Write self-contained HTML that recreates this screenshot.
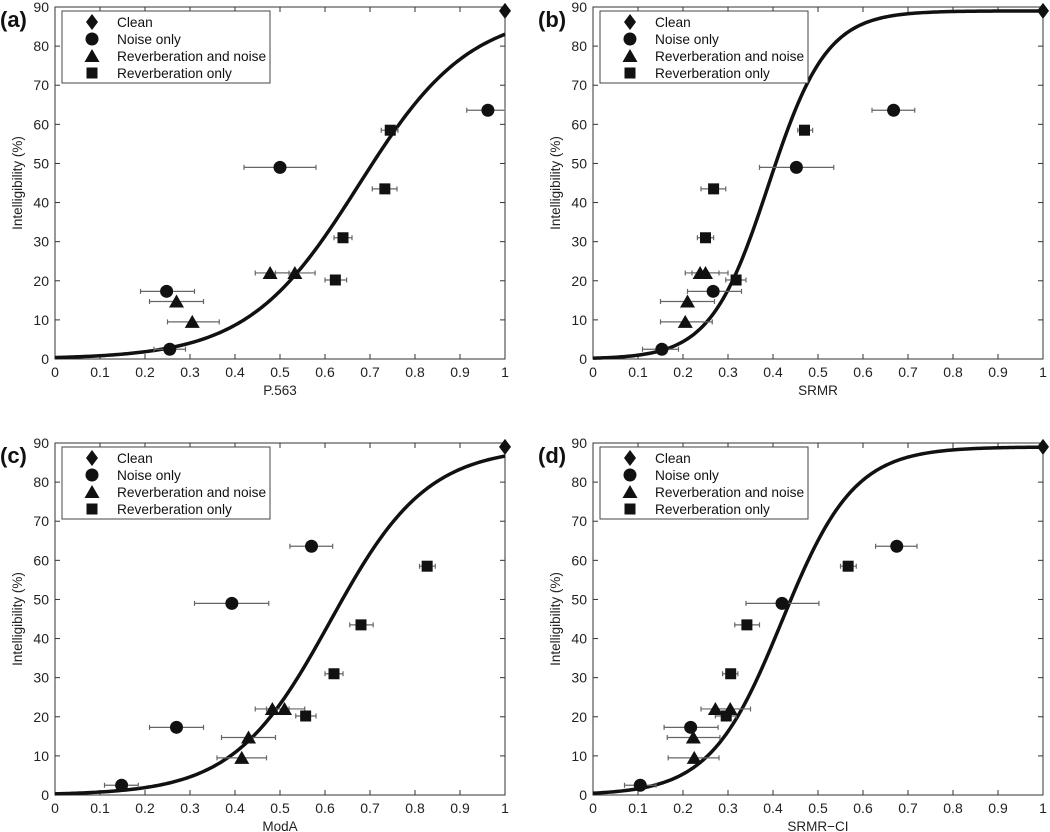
<!DOCTYPE html>
<html><head><meta charset="utf-8"><style>
body{margin:0;background:#fff;}
svg{display:block;font-family:"Liberation Sans",Arial,sans-serif;}
</style></head><body>
<svg id="fig" width="1050" height="832" viewBox="0 0 1050 832"></svg>
<script>
// Shared y values (intelligibility %)
const cleanY = [89];
const noiseY = [2.5, 17.3, 49, 63.6];
const revNoiseY = [9.5, 14.7, 22, 22];
const revY = [20.2, 31, 43.5, 58.5];

// Panel (a) P.563
const aCleanX = [1.0];
const aNoiseX = [0.255, 0.248, 0.50, 0.962];
const aNoiseLo = [0.22, 0.19, 0.42, 0.915];
const aNoiseHi = [0.29, 0.31, 0.58, 1.0];
const aRNX = [0.305, 0.27, 0.478, 0.533];
const aRNLo = [0.25, 0.21, 0.445, 0.49];
const aRNHi = [0.365, 0.33, 0.52, 0.578];
const aRX = [0.623, 0.64, 0.733, 0.745];
const aRLo = [0.60, 0.62, 0.705, 0.725];
const aRHi = [0.648, 0.66, 0.76, 0.762];
const aFit = [89, 8.1, 0.675];

// Panel (b) SRMR
const bCleanX = [1.0];
const bNoiseX = [0.153, 0.267, 0.452, 0.668];
const bNoiseLo = [0.11, 0.21, 0.37, 0.62];
const bNoiseHi = [0.19, 0.33, 0.535, 0.715];
const bRNX = [0.205, 0.21, 0.238, 0.25];
const bRNLo = [0.15, 0.15, 0.205, 0.22];
const bRNHi = [0.265, 0.27, 0.28, 0.30];
const bRX = [0.318, 0.25, 0.268, 0.47];
const bRLo = [0.295, 0.232, 0.24, 0.455];
const bRHi = [0.34, 0.268, 0.295, 0.488];
const bFit = [89, 15.5, 0.39];

// Panel (c) ModA
const cCleanX = [1.0];
const cNoiseX = [0.148, 0.27, 0.393, 0.57];
const cNoiseLo = [0.11, 0.21, 0.31, 0.522];
const cNoiseHi = [0.185, 0.33, 0.475, 0.617];
const cRNX = [0.415, 0.43, 0.483, 0.51];
const cRNLo = [0.36, 0.37, 0.445, 0.47];
const cRNHi = [0.47, 0.49, 0.52, 0.555];
const cRX = [0.557, 0.62, 0.68, 0.827];
const cRLo = [0.535, 0.60, 0.655, 0.81];
const cRHi = [0.58, 0.64, 0.707, 0.845];
const cFit = [89, 9.3, 0.612];

// Panel (d) SRMR-CI
const dCleanX = [1.0];
const dNoiseX = [0.105, 0.217, 0.42, 0.675];
const dNoiseLo = [0.07, 0.158, 0.34, 0.628];
const dNoiseHi = [0.14, 0.278, 0.502, 0.72];
const dRNX = [0.225, 0.223, 0.272, 0.305];
const dRNLo = [0.167, 0.165, 0.24, 0.27];
const dRNHi = [0.28, 0.282, 0.31, 0.35];
const dRX = [0.296, 0.306, 0.342, 0.567];
const dRLo = [0.272, 0.288, 0.315, 0.55];
const dRHi = [0.318, 0.322, 0.37, 0.585];
const dFit = [89, 12.5, 0.42];

const xTicks = [0,0.1,0.2,0.3,0.4,0.5,0.6,0.7,0.8,0.9,1];
const xTickLabels = ["0","0.1","0.2","0.3","0.4","0.5","0.6","0.7","0.8","0.9","1"];
const yTicks = [0,10,20,30,40,50,60,70,80,90];
const legendLabels = ["Clean","Noise only","Reverberation and noise","Reverberation only"];

const NS="http://www.w3.org/2000/svg";
const svg=document.getElementById('fig');
function mk(tag,attrs,parent){const e=document.createElementNS(NS,tag);for(const k in attrs)e.setAttribute(k,attrs[k]);(parent||svg).appendChild(e);return e;}

function marker(g,type,cx,cy){
  let e;
  if(type==='diamond') e=mk('polygon',{points:`${cx},${cy-8} ${cx+6},${cy} ${cx},${cy+8} ${cx-6},${cy}`,fill:'#111'},g);
  else if(type==='circle') e=mk('circle',{cx:cx,cy:cy,r:6.5,fill:'#111'},g);
  else if(type==='triangle') e=mk('polygon',{points:`${cx},${cy-7} ${cx+7.5},${cy+6} ${cx-7.5},${cy+6}`,fill:'#111'},g);
  else e=mk('rect',{x:cx-5.5,y:cy-5.5,width:11,height:11,fill:'#111'},g);
  return e;
}

function panel(o){
  const L=o.L,R=o.R,T=o.T,B=o.B;
  const X=v=>L+v*(R-L), Y=v=>B-v/90*(B-T);
  const g=mk('g',{});
  
  
  const frame=mk('rect',{x:L,y:T,width:R-L,height:B-T,fill:'none',stroke:'#333','stroke-width':1},g);
  
  
  xTicks.forEach((t,i)=>{
    const x=X(t);
    mk('line',{x1:x,y1:B,x2:x,y2:B-5,stroke:'#333'},g);
    mk('line',{x1:x,y1:T,x2:x,y2:T+5,stroke:'#333'},g);
    const tx=mk('text',{x:x,y:B+18,'text-anchor':'middle','font-size':14,fill:'#222'},g);
    tx.textContent=xTickLabels[i];
    
    
  });
  yTicks.forEach(t=>{
    const y=Y(t);
    mk('line',{x1:L,y1:y,x2:L+5,y2:y,stroke:'#333'},g);
    mk('line',{x1:R,y1:y,x2:R-5,y2:y,stroke:'#333'},g);
    const tx=mk('text',{x:L-6,y:y+5,'text-anchor':'end','font-size':14,fill:'#222'},g);
    tx.textContent=String(t);
    
    
  });
  const xl=mk('text',{x:(L+R)/2,y:B+36,'text-anchor':'middle','font-size':13.5,fill:'#222'},g);
  xl.textContent=o.xlabel;
  
  
  const yc=(T+B)/2, yx=L-33;
  const yl=mk('text',{x:yx,y:yc,'text-anchor':'middle','font-size':13.5,fill:'#222',transform:`rotate(-90 ${yx} ${yc})`},g);
  yl.textContent='Intelligibility (%)';
  
  
  const pl=mk('text',{x:o.labX,y:T+20,'font-size':22,'font-weight':'bold',fill:'#111'},g);
  pl.textContent='('+o.id+')';
  
  
  const [A,k,x0]=o.fit;
  let d='';
  for(let i=0;i<=200;i++){const v=i/200;const f=A/(1+Math.exp(-k*(v-x0)));d+=(i?'L':'M')+X(v).toFixed(2)+','+Y(f).toFixed(2);}
  const c=mk('path',{d:d,fill:'none',stroke:'#111','stroke-width':3.5},g);
  
  
  function errs(xs,lo,hi,ys){xs.forEach((_,i)=>{
    const y=Y(ys[i]),x1=X(lo[i]),x2=X(Math.min(hi[i],1));
    const eb=mk('path',{d:`M${x1},${y}H${x2}M${x1},${y-2.5}V${y+2.5}M${x2},${y-2.5}V${y+2.5}`,stroke:'#666','stroke-width':1.2,fill:'none'},g);
    
    
  });}
  errs(o.nx,o.nlo,o.nhi,noiseY);errs(o.rnx,o.rnlo,o.rnhi,revNoiseY);errs(o.rx,o.rlo,o.rhi,revY);
  o.cx.forEach((v,i)=>{const m=marker(g,'diamond',X(v),Y(cleanY[i]));});
  o.nx.forEach((v,i)=>{const m=marker(g,'circle',X(v),Y(noiseY[i]));});
  o.rnx.forEach((v,i)=>{const m=marker(g,'triangle',X(v),Y(revNoiseY[i]));});
  o.rx.forEach((v,i)=>{const m=marker(g,'square',X(v),Y(revY[i]));});
  const lg=mk('g',{},g);
  
  
  mk('rect',{x:L+7,y:T+4,width:208,height:72,fill:'#fff',stroke:'#444'},lg);
  const types=['diamond','circle','triangle','square'];
  legendLabels.forEach((lab,i)=>{
    const yy=T+15+i*17;
    marker(lg,types[i],L+37,yy);
    const t=mk('text',{x:L+62,y:yy+5,'font-size':13.7,fill:'#111'},lg);
    t.textContent=lab;
    
    
  });
}

panel({id:'a',L:55,R:505,T:7,B:359,labX:0,xlabel:'P.563',fit:aFit,cx:aCleanX,nx:aNoiseX,nlo:aNoiseLo,nhi:aNoiseHi,rnx:aRNX,rnlo:aRNLo,rnhi:aRNHi,rx:aRX,rlo:aRLo,rhi:aRHi});
panel({id:'b',L:593,R:1043,T:7,B:359,labX:538,xlabel:'SRMR',fit:bFit,cx:bCleanX,nx:bNoiseX,nlo:bNoiseLo,nhi:bNoiseHi,rnx:bRNX,rnlo:bRNLo,rnhi:bRNHi,rx:bRX,rlo:bRLo,rhi:bRHi});
panel({id:'c',L:55,R:505,T:443,B:795,labX:0,xlabel:'ModA',fit:cFit,cx:cCleanX,nx:cNoiseX,nlo:cNoiseLo,nhi:cNoiseHi,rnx:cRNX,rnlo:cRNLo,rnhi:cRNHi,rx:cRX,rlo:cRLo,rhi:cRHi});
panel({id:'d',L:593,R:1043,T:443,B:795,labX:538,xlabel:'SRMR\u2212CI',fit:dFit,cx:dCleanX,nx:dNoiseX,nlo:dNoiseLo,nhi:dNoiseHi,rnx:dRNX,rnlo:dRNLo,rnhi:dRNHi,rx:dRX,rlo:dRLo,rhi:dRHi});
</script>
</body></html>
